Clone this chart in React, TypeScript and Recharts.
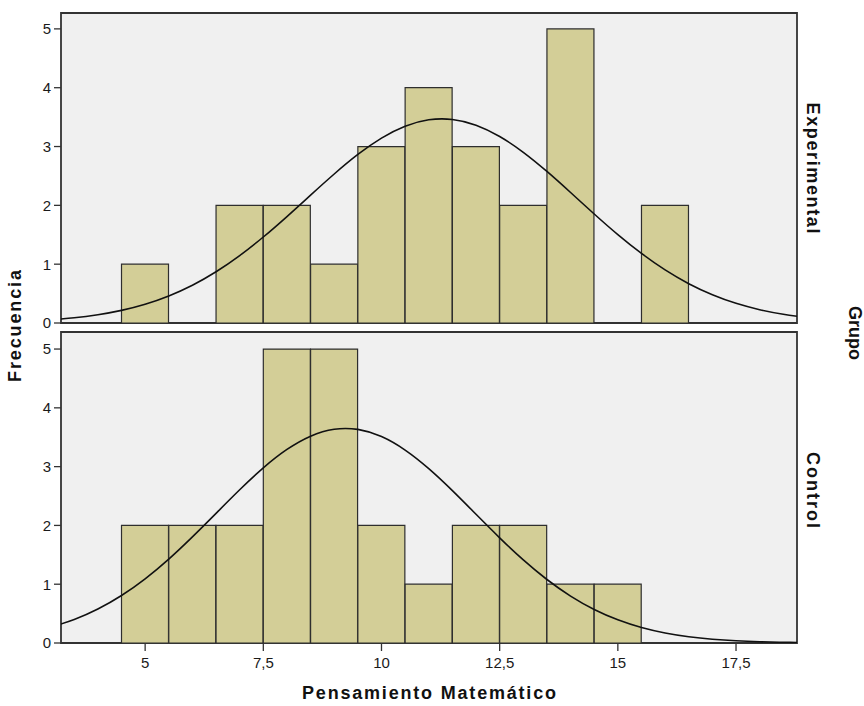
import {
  Bar,
  CartesianGrid,
  ComposedChart,
  Line,
  ReferenceArea,
  XAxis,
  YAxis,
} from "recharts";

// histogram bins (bin centres, width 1)
const bins = [5, 6, 7, 8, 9, 10, 11, 12, 13, 14, 15, 16];
const experimentalCounts = [1, 0, 2, 2, 1, 3, 4, 3, 2, 5, 0, 2];
const controlCounts = [2, 2, 2, 5, 5, 2, 1, 2, 2, 1, 1, 0];

// normal curves
const curveX = [
  3, 3.5, 4, 4.5, 5, 5.5, 6, 6.5, 7, 7.5, 8, 8.5, 9, 9.5, 10, 10.5, 11, 11.5,
  12, 12.5, 13, 13.5, 14, 14.5, 15, 15.5, 16, 16.5, 17, 17.5, 18, 18.5, 19,
];
const experimentalCurve = [
  0.055, 0.089, 0.141, 0.215, 0.319, 0.46, 0.642, 0.871, 1.146, 1.462, 1.81,
  2.174, 2.533, 2.865, 3.143, 3.345, 3.454, 3.46, 3.363, 3.171, 2.902, 2.576,
  2.218, 1.853, 1.502, 1.182, 0.902, 0.668, 0.48, 0.334, 0.226, 0.148, 0.094,
];
const controlCurve = [
  0.268, 0.4, 0.578, 0.808, 1.092, 1.427, 1.805, 2.205, 2.606, 2.979, 3.292,
  3.518, 3.636, 3.633, 3.511, 3.281, 2.965, 2.591, 2.189, 1.789, 1.413, 1.08,
  0.798, 0.57, 0.394, 0.263, 0.17, 0.106, 0.064, 0.037, 0.021, 0.012, 0.006,
];

const xTicks = [5, 7.5, 10, 12.5, 15, 17.5];
const yTicks = [0, 1, 2, 3, 4, 5];
const xDomain = [3.22, 18.79];

const FONT = "'Liberation Sans', Arial, sans-serif";
const TITLE_FONT = "'Liberation Sans', Arial, sans-serif";
const PLOT_LEFT = 61;
const PLOT_WIDTH = 736;
const pxPerUnit = PLOT_WIDTH / (xDomain[1] - xDomain[0]);
const catPadding = {
  left: (bins[0] - 0.5 - xDomain[0]) * pxPerUnit,
  right: (xDomain[1] - (bins[bins.length - 1] + 0.5)) * pxPerUnit,
};

type PanelProps = {
  counts: number[];
  curve: number[];
  top: number;
  height: number;
  yMax: number;
  showXAxis: boolean;
};

function Panel({ counts, curve, top, height, yMax, showXAxis }: PanelProps) {
  const barData = bins.map((bin, i) => ({ bin, count: counts[i] }));
  const curveData = curveX.map((x, i) => ({ x, y: curve[i] }));

  return (
    <div style={{ position: "absolute", left: 0, top, width: 864, height }}>
      <ComposedChart
        width={864}
        height={height}
        data={barData}
        barCategoryGap={0}
        barGap={0}
        margin={{
          top: 13,
          right: 864 - PLOT_LEFT - PLOT_WIDTH,
          bottom: showXAxis ? 33 : 7,
          left: PLOT_LEFT - 30,
        }}
      >
        <CartesianGrid
          horizontal={false}
          vertical={false}
          fill="#f0f0f0"
          fillOpacity={1}
        />
        <XAxis
          xAxisId="cat"
          dataKey="bin"
          type="category"
          hide
          padding={catPadding}
        />
        <XAxis
          dataKey="x"
          type="number"
          domain={xDomain}
          allowDataOverflow
          ticks={xTicks}
          interval={0}
          tickFormatter={(v) => String(v).replace(".", ",")}
          hide={!showXAxis}
          height={30}
          axisLine={false}
          tickSize={8}
          tickMargin={6}
          tickLine={{ stroke: "#333", strokeWidth: 1.3 }}
          tick={{ fill: "#1a1a1a", fontSize: 15, fontFamily: FONT }}
        />
        <YAxis
          width={30}
          type="number"
          domain={[0, yMax]}
          allowDataOverflow
          ticks={yTicks}
          interval={0}
          axisLine={false}
          tickSize={7}
          tickMargin={3}
          tickLine={{ stroke: "#333", strokeWidth: 1.3 }}
          tick={{ fill: "#1a1a1a", fontSize: 15, fontFamily: FONT }}
        />
        <Bar
          xAxisId="cat"
          dataKey="count"
          fill="#d3ce97"
          stroke="#2e2e2e"
          strokeWidth={1.2}
          isAnimationActive={false}
        />
        <Line
          data={curveData}
          dataKey="y"
          type="natural"
          stroke="#111"
          strokeWidth={1.6}
          dot={false}
          activeDot={false}
          isAnimationActive={false}
        />
        <ReferenceArea
          x1={xDomain[0]}
          x2={xDomain[1]}
          y1={0}
          y2={yMax}
          fill="none"
          stroke="#333"
          strokeWidth={1.8}
        />
      </ComposedChart>
    </div>
  );
}

export default function App() {
  const titleStyle = {
    fontFamily: TITLE_FONT,
    fontWeight: 700,
    fontSize: 18,
    fill: "#111",
  };

  return (
    <div
      style={{
        position: "absolute",
        left: 0,
        top: 0,
        width: 864,
        height: 706,
        background: "#fff",
      }}
    >
      <Panel
        counts={experimentalCounts}
        curve={experimentalCurve}
        top={0}
        height={330}
        yMax={5.27}
        showXAxis={false}
      />
      <Panel
        counts={controlCounts}
        curve={controlCurve}
        top={319}
        height={387}
        yMax={5.29}
        showXAxis
      />
      <svg
        width={864}
        height={706}
        style={{ position: "absolute", left: 0, top: 0, pointerEvents: "none" }}
      >
        <text
          {...titleStyle}
          x={0}
          y={0}
          textAnchor="middle"
          dominantBaseline="central"
          textLength={112}
          transform="translate(15 326) rotate(-90)"
        >
          Frecuencia
        </text>
        <text
          {...titleStyle}
          x={0}
          y={0}
          textAnchor="middle"
          dominantBaseline="central"
          textLength={131}
          transform="translate(813 168) rotate(90)"
        >
          Experimental
        </text>
        <text
          {...titleStyle}
          x={0}
          y={0}
          textAnchor="middle"
          dominantBaseline="central"
          textLength={76}
          transform="translate(813 490) rotate(90)"
        >
          Control
        </text>
        <text
          {...titleStyle}
          x={0}
          y={0}
          textAnchor="middle"
          dominantBaseline="central"
          transform="translate(855 333) rotate(90)"
        >
          Grupo
        </text>
        <text
          {...titleStyle}
          x={429}
          y={693}
          textAnchor="middle"
          dominantBaseline="central"
          textLength={254}
        >
          Pensamiento Matemático
        </text>
      </svg>
    </div>
  );
}
